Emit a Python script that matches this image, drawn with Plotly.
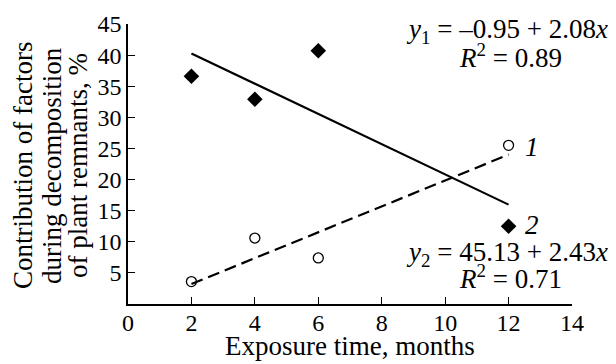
import plotly.graph_objects as go

# Data
months = [2, 4, 6, 12]
factor1 = [3.6, 10.6, 7.4, 25.5]    # open circles, series 1
factor2 = [36.6, 32.9, 40.7, 12.5]  # filled diamonds, series 2
fit1_coef = [-0.95, 2.08]   # intercept, slope
fit2_coef = [45.13, -2.43]
fit_x = [2, 12]
x_ticks = [0, 2, 4, 6, 8, 10, 12, 14]
y_ticks = [5, 10, 15, 20, 25, 30, 35, 40, 45]
y_title_lines = ["Contribution of factors", "during decomposition", "of plant remnants, %"]
x_title = "Exposure time, months"

fit1_y = [fit1_coef[0] + fit1_coef[1] * x for x in fit_x]
fit2_y = [fit2_coef[0] + fit2_coef[1] * x for x in fit_x]

FONT = "Liberation Serif"
FS = 27
TFS = 24

OFF = 8  # page body margin
W, H = 608, 356
L, R, T, B = 120, 44, 16, 60
PW, PH = W - L - R, H - T - B


def px2paper(sx, sy):
    fx, fy = sx - OFF, sy - OFF
    return (fx - L) / PW, (H - B - fy) / PH


fig = go.Figure()
fig.add_trace(go.Scatter(x=fit_x, y=fit2_y, mode="lines",
                         line=dict(color="black", width=2.2), showlegend=False))
fig.add_trace(go.Scatter(x=fit_x, y=fit1_y, mode="lines",
                         line=dict(color="black", width=2.2, dash="12px,6px"), showlegend=False))
fig.add_trace(go.Scatter(x=months, y=factor2, mode="markers",
                         marker=dict(symbol="diamond", size=12, color="black"),
                         showlegend=False))
fig.add_trace(go.Scatter(x=months, y=factor1, mode="markers",
                         marker=dict(symbol="circle-open", size=10, color="black",
                                     line=dict(width=1.3)),
                         showlegend=False))

ann = [
    (610, 31, "<i>y</i><sub>1</sub> = –0.95 + 2.08<i>x</i>", "right"),
    (510, 56, "<i>R</i><sup>2</sup> = 0.89", "center"),
    (610, 254, "<i>y</i><sub>2</sub> = 45.13 + 2.43<i>x</i>", "right"),
    (510, 277, "<i>R</i><sup>2</sup> = 0.71", "center"),
    (532, 147, "<i>1</i>", "center"),
    (532, 225, "<i>2</i>", "center"),
    (350, 346, x_title, "center"),
]
for sx, sy, text, xa in ann:
    ax_, ay_ = px2paper(sx, sy)
    fig.add_annotation(x=ax_, y=ay_, text=text, showarrow=False,
                       xref="paper", yref="paper", xanchor=xa, yanchor="middle",
                       font=dict(family=FONT, size=FS, color="black"))

for sx, line in zip([23, 52, 78], y_title_lines):
    ax_, ay_ = px2paper(sx, 166)
    fig.add_annotation(x=ax_, y=ay_, xref="paper", yref="paper",
                       xanchor="center", yanchor="middle", text=line,
                       textangle=-90, showarrow=False,
                       font=dict(family=FONT, size=FS, color="black"))

fig.update_layout(
    width=W, height=H,
    margin=dict(l=L, r=R, t=T, b=B),
    plot_bgcolor="white", paper_bgcolor="white",
    font=dict(family=FONT, size=FS, color="black"),
    xaxis=dict(range=[0, 14], tickvals=x_ticks, ticks="inside", ticklen=7,
               tickcolor="black", tickwidth=1.3, showline=True, linecolor="black",
               linewidth=1.5, showgrid=False, zeroline=False, automargin=False,
               ticklabelstandoff=-4,
               tickfont=dict(family=FONT, size=TFS, color="black")),
    yaxis=dict(range=[0, 45], tickvals=y_ticks, ticks="inside", ticklen=7,
               tickcolor="black", tickwidth=1.3, showline=True, linecolor="black",
               linewidth=1.5, showgrid=False, zeroline=False, automargin=False,
               tickfont=dict(family=FONT, size=TFS, color="black")),
)

fig.write_html("out.html")
